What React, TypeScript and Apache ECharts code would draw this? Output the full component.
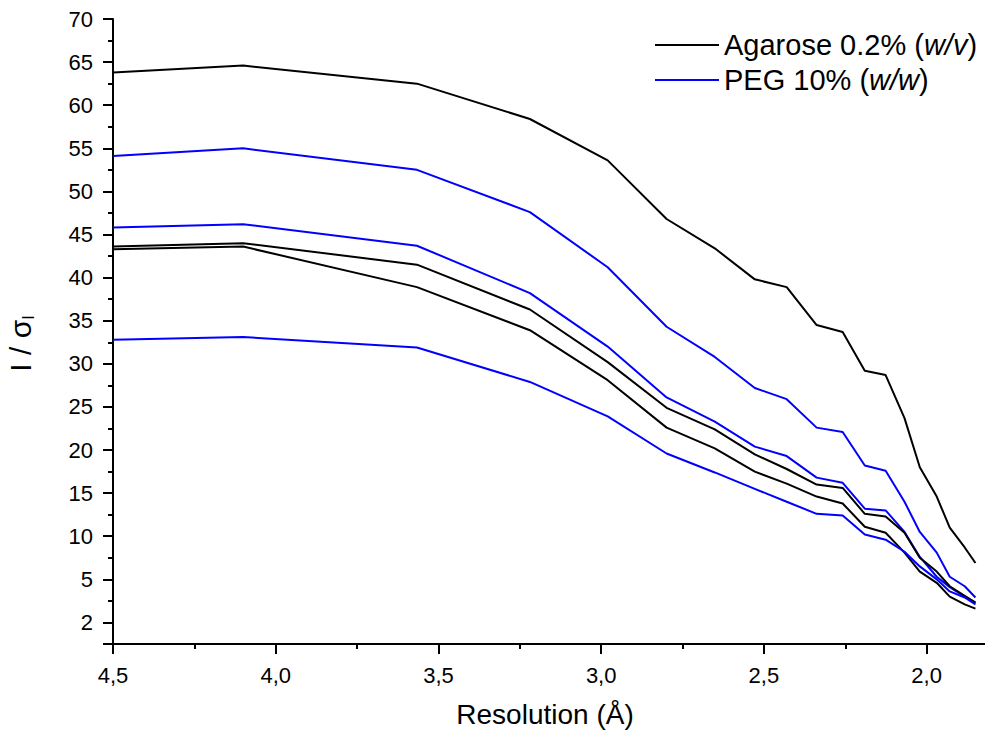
import React, { useEffect, useRef } from "react";
import * as echarts from "echarts";

// Resolution shells (Å)
const resolution = [4.5, 4.1, 3.566, 3.219, 2.98, 2.799, 2.651, 2.528, 2.43, 2.338, 2.258, 2.19, 2.126, 2.068, 2.021, 1.969, 1.929, 1.883, 1.85];

// I / sigma(I) — Agarose 0.2% (w/v), three crystals
const agaroseA = [63.8, 64.6, 62.5, 58.4, 53.6, 46.8, 43.4, 39.8, 38.9, 34.5, 33.7, 29.2, 28.7, 23.7, 18.0, 14.6, 11.0, 8.7, 6.9];
const agaroseB = [43.6, 44.0, 41.5, 36.3, 30.2, 24.9, 22.4, 19.5, 17.8, 16.0, 15.6, 12.6, 12.3, 10.4, 7.5, 5.9, 4.2, 3.1, 2.3];
const agaroseC = [43.3, 43.6, 38.9, 33.9, 28.1, 22.6, 20.2, 17.5, 16.1, 14.6, 13.8, 11.1, 10.4, 8.1, 5.9, 4.6, 3.0, 2.1, 1.6];

// I / sigma(I) — PEG 10% (w/w), three crystals
const pegA = [54.1, 55.0, 52.5, 47.6, 41.2, 34.3, 30.8, 27.2, 25.9, 22.6, 22.1, 18.2, 17.6, 14.0, 10.5, 8.1, 5.3, 4.2, 2.9];
const pegB = [45.8, 46.2, 43.7, 38.2, 32.0, 26.1, 23.3, 20.4, 19.3, 16.8, 16.2, 13.2, 13.0, 10.5, 7.6, 5.3, 4.1, 3.0, 2.3];
const pegC = [32.8, 33.1, 31.9, 27.9, 23.9, 19.6, 17.4, 15.5, 14.0, 12.6, 12.4, 10.2, 9.6, 8.2, 6.5, 5.0, 3.6, 2.9, 2.1];

// Tick labels
const xTickValues = [4.5, 4.0, 3.5, 3.0, 2.5, 2.0];
const xTickLabels = ["4,5", "4,0", "3,5", "3,0", "2,5", "2,0"];
const yTickValues = [0, 5, 10, 15, 20, 25, 30, 35, 40, 45, 50, 55, 60, 65, 70];
const yTickLabels = ["2", "5", "10", "15", "20", "25", "30", "35", "40", "45", "50", "55", "60", "65", "70"];

const AGAROSE = "Agarose 0.2% (w/v)";
const PEG = "PEG 10% (w/w)";
const FONT = "Liberation Sans, Arial, sans-serif";
const BLACK = "#000000";
const BLUE = "#0000FF";

function lookup(values: number[], labels: string[], v: number): string {
  for (let i = 0; i < values.length; i++) {
    if (Math.abs(values[i] - v) < 1e-6) return labels[i];
  }
  return "";
}

export default function App() {
  const ref = useRef<HTMLDivElement>(null);
  useEffect(() => {
    if (!ref.current) return;
    const chart = echarts.init(ref.current, null, { renderer: "svg" });
    const mk = (name: string, arr: number[], color: string) => ({
      name,
      type: "line",
      data: resolution.map((r, i) => [r, arr[i]]),
      showSymbol: false,
      symbol: "none",
      lineStyle: { color, width: 2 },
      itemStyle: { color },
      emphasis: { disabled: true },
    });
    chart.setOption({
      animation: false,
      backgroundColor: "#ffffff",
      grid: { left: 113, top: 19, right: -23, bottom: 94, outerBoundsMode: "none", containLabel: false },
      legend: {
        orient: "vertical",
        left: 655,
        top: 30,
        padding: 0,
        itemWidth: 64,
        itemHeight: 2,
        itemGap: 5,
        icon: "rect",
        data: [AGAROSE, PEG],
        formatter: (name: string) =>
          name === AGAROSE ? "Agarose 0.2% ({i|w/v})" : "PEG 10% ({i|w/w})",
        textStyle: {
          fontFamily: FONT,
          fontSize: 29,
          color: BLACK,
          lineHeight: 30,
          rich: {
            i: { fontFamily: FONT, fontSize: 29, fontStyle: "italic", color: BLACK, lineHeight: 30 },
          },
        },
      },
      xAxis: {
        type: "value",
        inverse: true,
        min: 1.75,
        max: 4.5,
        splitNumber: 5,
        name: "Resolution (Å)",
        nameLocation: "middle",
        nameGap: 56,
        nameTextStyle: { fontFamily: FONT, fontSize: 28, color: BLACK, padding: [0, 31, 0, 0] },
        axisLine: { show: true, onZero: false, lineStyle: { color: BLACK, width: 2 } },
        axisTick: { show: true, length: 10, lineStyle: { color: BLACK, width: 2 } },
        minorTick: { show: true, splitNumber: 2, length: 5, lineStyle: { color: BLACK, width: 2 } },
        splitLine: { show: false },
        minorSplitLine: { show: false },
        axisLabel: {
          margin: 20,
          fontFamily: FONT,
          fontSize: 22,
          color: BLACK,
          formatter: (v: number) => lookup(xTickValues, xTickLabels, v),
        },
      },
      yAxis: {
        type: "value",
        min: -2.5,
        max: 70,
        splitNumber: 14,
        name: "I / σ{sub|I}",
        nameLocation: "middle",
        nameGap: 77,
        nameRotate: 90,
        nameTextStyle: {
          fontFamily: FONT,
          fontSize: 30,
          color: BLACK,
          padding: [0, 24, 0, 0],
          rich: {
            sub: { fontFamily: FONT, fontSize: 16, color: BLACK, verticalAlign: "top", padding: [16, 0, 0, 0] },
          },
        },
        axisLine: { show: true, onZero: false, lineStyle: { color: BLACK, width: 2 } },
        axisTick: { show: true, length: 10, lineStyle: { color: BLACK, width: 2 } },
        minorTick: { show: true, splitNumber: 2, length: 5, lineStyle: { color: BLACK, width: 2 } },
        splitLine: { show: false },
        minorSplitLine: { show: false },
        axisLabel: {
          margin: 20,
          fontFamily: FONT,
          fontSize: 22,
          color: BLACK,
          formatter: (v: number) => lookup(yTickValues, yTickLabels, v),
        },
      },
      series: [
        mk(AGAROSE, agaroseA, BLACK),
        mk(PEG, pegA, BLUE),
        mk(PEG, pegB, BLUE),
        mk(AGAROSE, agaroseB, BLACK),
        mk(AGAROSE, agaroseC, BLACK),
        mk(PEG, pegC, BLUE),
      ],
    });
    return () => chart.dispose();
  }, []);
  return (
    <div
      ref={ref}
      style={{ position: "fixed", left: 0, top: 0, width: 985, height: 738, background: "#fff" }}
    />
  );
}
